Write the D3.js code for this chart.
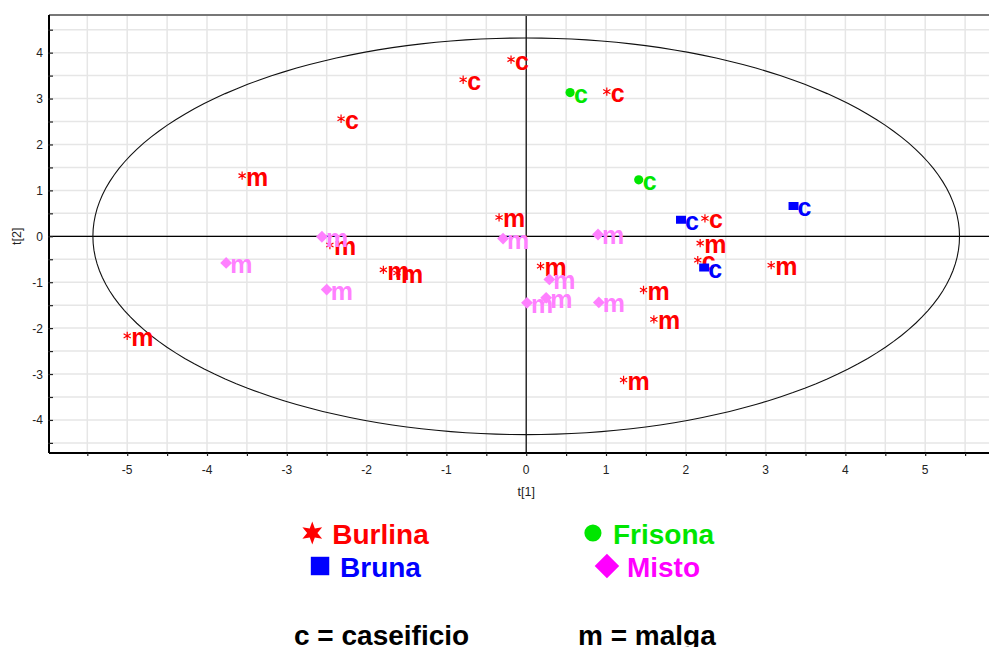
<!DOCTYPE html>
<html>
<head>
<meta charset="utf-8">
<script src="https://cdn.jsdelivr.net/npm/d3@7"></script>
<style>
  html, body { margin: 0; padding: 0; background: #fff; }
  svg { display: block; font-family: "Liberation Sans", Arial, sans-serif; }
</style>
</head>
<body>
<svg id="chart" width="989" height="647"></svg>
<script>
// ---------------- data ----------------
const burlinaX = [-0.19, -0.79, 1.01, -2.32, -3.56, -0.34, -2.46, -1.79, -1.62, 0.18, 1.47, 1.60, 1.22, -5.00, 2.24, 2.18, 2.15, 3.07];
const burlinaY = [3.85, 3.41, 3.15, 2.56, 1.32, 0.41, -0.19, -0.73, -0.80, -0.65, -1.17, -1.81, -3.13, -2.17, 0.39, -0.15, -0.52, -0.63];
const burlinaL = ["c", "c", "c", "c", "m", "m", "m", "m", "m", "m", "m", "m", "m", "m", "c", "m", "c", "m"];

const frisonaX = [0.55, 1.41];
const frisonaY = [3.13, 1.23];
const frisonaL = ["c", "c"];

const brunaX = [3.35, 1.94, 2.23];
const brunaY = [0.66, 0.36, -0.68];
const brunaL = ["c", "c", "c"];

const mistoX = [-2.56, -3.76, -2.50, -0.29, 0.90, 0.29, 0.01, 0.25, 0.91];
const mistoY = [-0.01, -0.58, -1.16, -0.05, 0.04, -0.94, -1.45, -1.34, -1.44];
const mistoL = ["m", "m", "m", "m", "m", "m", "m", "m", "m"];

const seriesNames = ["Burlina", "Frisona", "Bruna", "Misto"];
const xTicks = [-5, -4, -3, -2, -1, 0, 1, 2, 3, 4, 5];
const yTicks = [-4, -3, -2, -1, 0, 1, 2, 3, 4];
const xTitle = "t[1]";
const yTitle = "t[2]";
const footnotes = ["c = caseificio", "m = malga"];
// Hotelling T2 ellipse semi-axes (in score units)
const ellipseRx = 5.43;
const ellipseRy = 4.32;

// ---------------- layout ----------------
const svg = d3.select("#chart");
const plotLeft = 49, plotTop = 15, plotBottom = 453, plotRight = 1005;
const x = d3.scaleLinear().domain([-5.98, 6.0]).range([plotLeft, plotRight]);
const y = d3.scaleLinear().domain([-4.72, 4.82]).range([plotBottom, plotTop]);

const FONT = '"Liberation Sans", Arial, sans-serif';

// clip
svg.append("defs").append("clipPath").attr("id", "plotclip")
  .append("rect").attr("x", plotLeft).attr("y", plotTop)
  .attr("width", plotRight - plotLeft).attr("height", plotBottom - plotTop);

// grid every 0.5
const gridX = d3.range(-5.5, 6.01, 0.5);
const gridY = d3.range(-4.5, 4.51, 0.5);
const grid = svg.append("g").attr("clip-path", "url(#plotclip)");
grid.selectAll("line.gx").data(gridX).join("line")
  .attr("x1", d => x(d)).attr("x2", d => x(d))
  .attr("y1", plotTop).attr("y2", plotBottom)
  .attr("stroke", "#e6e6e6").attr("stroke-width", 1.5);
grid.selectAll("line.gy").data(gridY).join("line")
  .attr("x1", plotLeft).attr("x2", plotRight)
  .attr("y1", d => y(d)).attr("y2", d => y(d))
  .attr("stroke", "#e6e6e6").attr("stroke-width", 1.5);

// zero lines
grid.append("line").attr("x1", plotLeft).attr("x2", plotRight)
  .attr("y1", y(0)).attr("y2", y(0)).attr("stroke", "#000").attr("stroke-width", 1.2);
grid.append("line").attr("x1", x(0)).attr("x2", x(0))
  .attr("y1", plotTop).attr("y2", plotBottom).attr("stroke", "#000").attr("stroke-width", 1.2);

// ellipse
const angles = d3.range(0, 361, 2);
grid.append("path")
  .datum(angles)
  .attr("d", d3.line()
    .x(a => x(ellipseRx * Math.cos(a * Math.PI / 180)))
    .y(a => y(ellipseRy * Math.sin(a * Math.PI / 180))))
  .attr("fill", "none").attr("stroke", "#111").attr("stroke-width", 1.1);

// frame: top border gray, left and bottom axes black
svg.append("line").attr("x1", plotLeft).attr("x2", plotRight)
  .attr("y1", plotTop).attr("y2", plotTop).attr("stroke", "#777").attr("stroke-width", 2);

// axes via d3
const minorX = d3.range(-5.5, 5.51, 0.5);
const minorY = d3.range(-4.5, 4.51, 0.5);
const xAxis = svg.append("g").attr("transform", `translate(0,${plotBottom})`)
  .call(d3.axisBottom(x).tickValues(minorX).tickSize(3).tickFormat(""));
xAxis.select(".domain").attr("d", `M${plotLeft},0H${plotRight}`).attr("stroke", "#000").attr("stroke-width", 2);
xAxis.selectAll(".tick line").attr("stroke", "#222").attr("stroke-width", 1.2);

const yAxis = svg.append("g").attr("transform", `translate(${plotLeft},0)`)
  .call(d3.axisLeft(y).tickValues(minorY).tickSize(-4).tickFormat(""));
yAxis.select(".domain").attr("d", `M0,${plotTop}V${plotBottom}`).attr("stroke", "#000").attr("stroke-width", 2);
yAxis.selectAll(".tick line").attr("stroke", "#222").attr("stroke-width", 1.2).attr("x1", -1);

// tick labels
svg.append("g").selectAll("text").data(xTicks).join("text")
  .attr("x", d => x(d)).attr("y", 474)
  .attr("text-anchor", "middle")
  .attr("font-family", FONT).attr("font-size", 12).attr("fill", "#222")
  .text(d => d);
svg.append("g").selectAll("text").data(yTicks).join("text")
  .attr("x", 43).attr("y", d => y(d) + 4.5)
  .attr("text-anchor", "end")
  .attr("font-family", FONT).attr("font-size", 12).attr("fill", "#222")
  .text(d => d);

// axis titles
svg.append("text").attr("x", x(0)).attr("y", 496).attr("text-anchor", "middle")
  .attr("font-family", FONT).attr("font-size", 12.5).attr("fill", "#222").text(xTitle);
svg.append("text").attr("transform", `translate(21,${y(0)}) rotate(-90)`).attr("text-anchor", "middle")
  .attr("font-family", FONT).attr("font-size", 12.5).attr("fill", "#222").text(yTitle);

// ---------------- markers ----------------
const starSmall = d3.symbol().type(d3.symbolAsterisk).size(48);
const diamondType = {
  draw(ctx, size) {
    const r = Math.sqrt(size) / 2;
    ctx.moveTo(0, -r); ctx.lineTo(r, 0); ctx.lineTo(0, r); ctx.lineTo(-r, 0); ctx.closePath();
  }
};
const rectType = {
  draw(ctx, size) {
    const w = Math.sqrt(size) / 2;
    const h = w * 0.8;
    ctx.moveTo(-w, -h); ctx.lineTo(w, -h); ctx.lineTo(w, h); ctx.lineTo(-w, h); ctx.closePath();
  }
};
const star6Type = {
  draw(ctx, size) {
    const R = Math.sqrt(size) / 2, r = R * 0.45;
    for (let i = 0; i < 12; i++) {
      const a = -Math.PI / 2 + i * Math.PI / 6;
      const rr = i % 2 === 0 ? R : r;
      const px = rr * Math.cos(a), py = rr * Math.sin(a);
      if (i === 0) ctx.moveTo(px, py); else ctx.lineTo(px, py);
    }
    ctx.closePath();
  }
};

const series = [
  { name: "Burlina", xs: burlinaX, ys: burlinaY, ls: burlinaL, color: "#ff0000", legendColor: "#ff0000", kind: "star" },
  { name: "Frisona", xs: frisonaX, ys: frisonaY, ls: frisonaL, color: "#00e600", legendColor: "#00e600", kind: "circle" },
  { name: "Misto", xs: mistoX, ys: mistoY, ls: mistoL, color: "#ff80ff", legendColor: "#ff00ff", kind: "diamond" },
  { name: "Bruna", xs: brunaX, ys: brunaY, ls: brunaL, color: "#0000ff", legendColor: "#0000ff", kind: "square" }
];

const pts = svg.append("g").attr("clip-path", "url(#plotclip)");
series.forEach(s => {
  const data = s.xs.map((v, i) => ({ x: v, y: s.ys[i], l: s.ls[i] }));
  const g = pts.append("g");
  data.forEach(d => {
    const px = x(d.x), py = y(d.y);
    if (s.kind === "star") {
      g.append("path").attr("d", starSmall()).attr("transform", `translate(${px},${py})`)
        .attr("fill", "none").attr("stroke", s.color).attr("stroke-width", 1.2);
    } else if (s.kind === "circle") {
      g.append("circle").attr("cx", px).attr("cy", py).attr("r", 4.6).attr("fill", s.color);
    } else if (s.kind === "diamond") {
      g.append("path").attr("d", d3.symbol().type(diamondType).size(140)())
        .attr("transform", `translate(${px},${py})`).attr("fill", s.color);
    } else {
      g.append("path").attr("d", d3.symbol().type(rectType).size(100)())
        .attr("transform", `translate(${px},${py})`).attr("fill", s.color);
    }
    g.append("text").attr("x", px + 4).attr("y", py + 10)
      .attr("font-family", FONT).attr("font-weight", "bold").attr("font-size", 25)
      .attr("fill", s.color).text(d.l);
  });
});

// ---------------- legend ----------------
const legendItems = [
  { name: "Burlina", col: 0, row: 0 },
  { name: "Frisona", col: 1, row: 0 },
  { name: "Bruna", col: 0, row: 1 },
  { name: "Misto", col: 1, row: 1 }
];
const colCenters = [365, 648];
const rowBaselines = [544, 577];
const legend = svg.append("g");
legendItems.forEach(it => {
  const s = series.find(q => q.name === it.name);
  const t = legend.append("text")
    .attr("font-family", FONT).attr("font-weight", "bold").attr("font-size", 28)
    .attr("fill", s.legendColor).attr("y", rowBaselines[it.row]).text(it.name);
  const tw = t.node().getComputedTextLength();
  const symW = 22, gap = 9;
  const left = colCenters[it.col] - (symW + gap + tw) / 2;
  t.attr("x", left + symW + gap);
  const cx = left + symW / 2, cy = rowBaselines[it.row] - 11;
  let type, size;
  if (s.kind === "star") { type = star6Type; size = 520; }
  else if (s.kind === "circle") { type = d3.symbolCircle; size = 230; }
  else if (s.kind === "diamond") { type = diamondType; size = 600; }
  else { type = d3.symbolSquare; size = 340; }
  legend.append("path").attr("d", d3.symbol().type(type).size(size)())
    .attr("transform", `translate(${cx},${cy})`).attr("fill", s.legendColor);
});

// footnotes
const footX = [294, 578];
svg.append("g").selectAll("text").data(footnotes).join("text")
  .attr("x", (d, i) => footX[i]).attr("y", 645)
  .attr("font-family", FONT).attr("font-weight", "bold").attr("font-size", 28)
  .attr("fill", "#000").text(d => d);
</script>
</body>
</html>
